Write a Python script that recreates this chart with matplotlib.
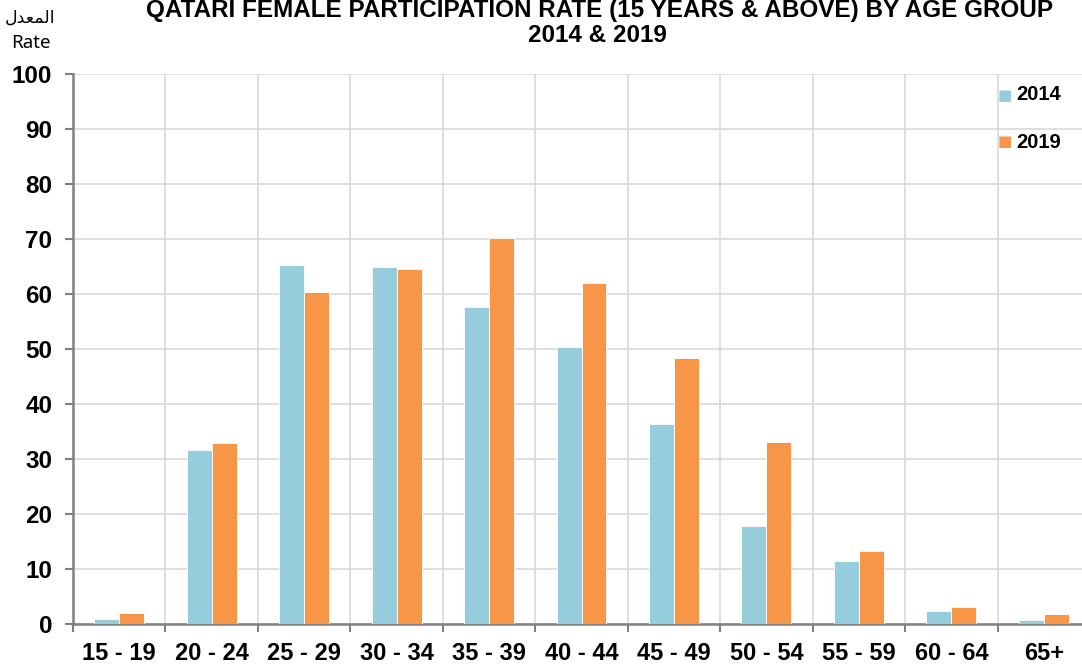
import matplotlib
matplotlib.use("Agg")
import matplotlib.pyplot as plt
import numpy as np

categories = ["15 - 19", "20 - 24", "25 - 29", "30 - 34", "35 - 39", "40 - 44",
              "45 - 49", "50 - 54", "55 - 59", "60 - 64", "65+"]
values_2014 = [0.9, 31.6, 65.3, 65.0, 57.7, 50.3, 36.3, 17.9, 11.5, 2.4, 0.8]
values_2019 = [2.0, 33.0, 60.3, 64.5, 70.2, 62.0, 48.4, 33.1, 13.2, 3.1, 1.8]
series_labels = ["2014", "2019"]
yticks = list(range(0, 101, 10))

c2014 = "#96CDDD"
c2019 = "#F79646"

plt.rcParams['font.family'] = ['Liberation Sans', 'DejaVu Sans']

fig = plt.figure(figsize=(10.82, 6.68), dpi=100)
ax = fig.add_axes([73/1082, 44/668, (1090-73)/1082, (624-74)/668])

x = np.arange(len(categories))
w = 0.27
ax.bar(x - w/2, values_2014, width=w, color=c2014, edgecolor="white", linewidth=0.6, zorder=3)
ax.bar(x + w/2, values_2019, width=w, color=c2019, edgecolor="white", linewidth=0.6, zorder=3)

ax.set_xlim(-0.5, len(categories) - 0.5)
ax.set_ylim(0, 100)
ax.set_yticks(yticks)
ax.set_yticklabels([str(v) for v in yticks], fontsize=17.5, fontweight='bold')
ax.set_xticks(x)
ax.set_xticklabels(categories, fontsize=17, fontweight='bold')
ax.set_xticks(np.arange(-0.5, len(categories), 1.0), minor=True)
ax.tick_params(axis='x', which='major', length=0, pad=13)
ax.tick_params(axis='x', which='minor', length=6, width=1.5, color="#808080", direction='out')
ax.tick_params(axis='y', which='major', length=6, width=1.5, color="#808080", direction='out', pad=9)

ax.grid(axis='y', which='major', color="#D9D9D9", linewidth=1.2, zorder=0)
ax.grid(axis='x', which='minor', color="#D9D9D9", linewidth=1.2, zorder=0)
ax.grid(axis='x', which='major', visible=False)
ax.set_axisbelow(True)

for s in ["top", "right"]:
    ax.spines[s].set_visible(False)
for s in ["left", "bottom"]:
    ax.spines[s].set_color("#808080")
    ax.spines[s].set_linewidth(1.8)

# legend (manual placement in figure coords)
fig.text(1005/1082, 1 - 95/668, "\u25A0", color=c2014, fontsize=11, ha='center', va='center',
         family=['DejaVu Sans'])
fig.text(1016/1082, 1 - 95/668, series_labels[0], fontsize=14.5, fontweight='bold', ha='left', va='center')
fig.text(1005/1082, 1 - 142/668, "\u25A0", color=c2019, fontsize=11, ha='center', va='center',
         family=['DejaVu Sans'])
fig.text(1016/1082, 1 - 142/668, series_labels[1], fontsize=14.5, fontweight='bold', ha='left', va='center')

# title
fig.text(600/1082, 1 - 10/668, "QATARI FEMALE PARTICIPATION RATE (15 YEARS & ABOVE) BY AGE GROUP",
         fontsize=17.5, fontweight='bold', ha='center', va='center')
fig.text(597/1082, 1 - 35/668, "2014 & 2019", fontsize=17.5, fontweight='bold', ha='center', va='center')

# y axis label (Arabic "المعدل" written with contextual presentation forms in visual order)
arabic_label = "\uFEDD\uFEAA\uFECC\uFEE4\uFEDF\uFE8D"
fig.text(30/1082, 1 - 18/668, arabic_label, fontsize=12.5, ha='center', va='center',
         family=['DejaVu Sans'])
fig.text(31/1082, 1 - 43/668, "Rate", fontsize=13.5, ha='center', va='center',
         family=['Noto Sans', 'DejaVu Sans'])

fig.savefig("out.png", dpi=100)
